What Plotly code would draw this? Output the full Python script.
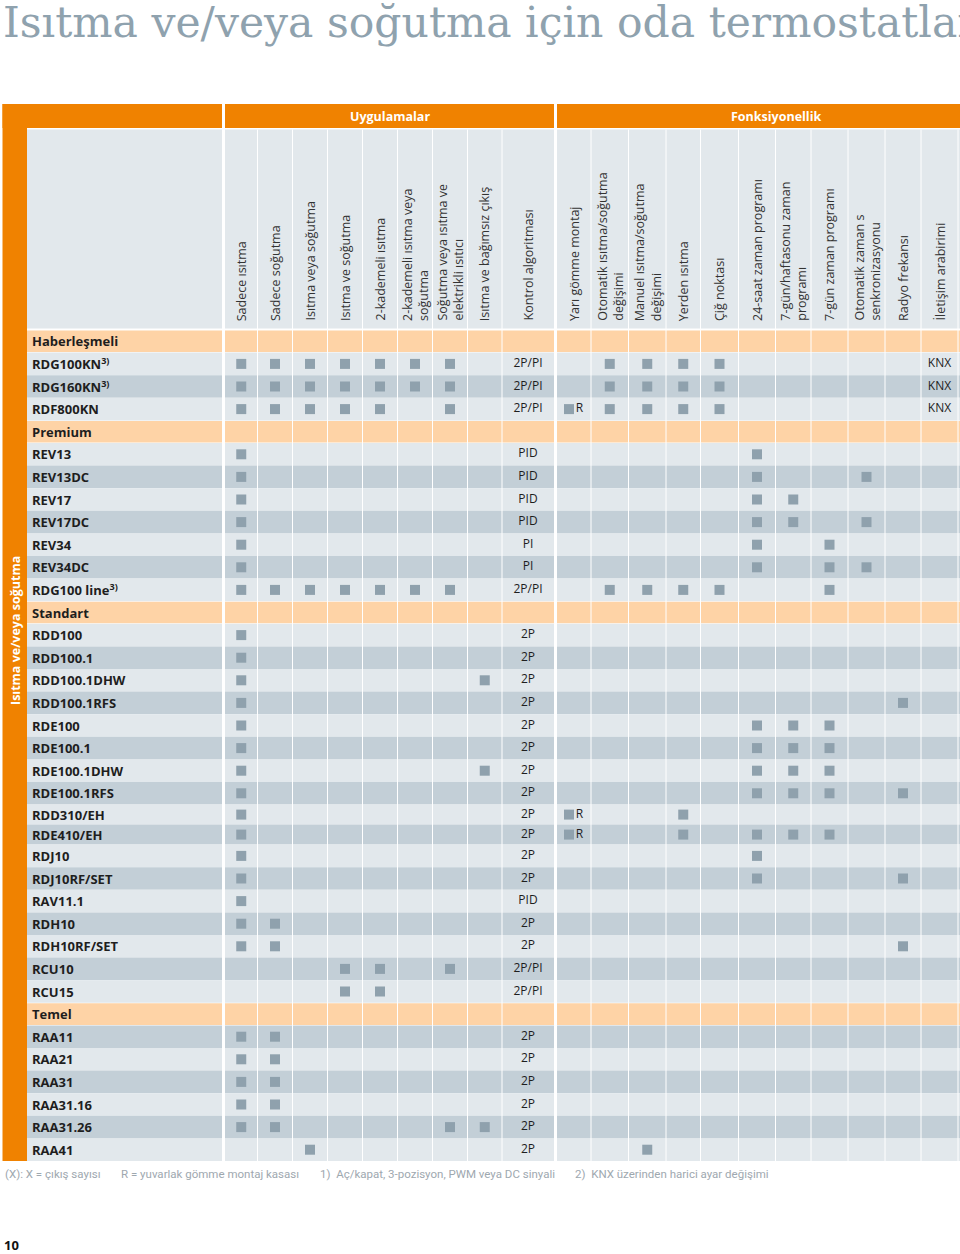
import plotly.graph_objects as go

# ---- data -------------------------------------------------------------
title = "Isıtma ve/veya soğutma için oda termostatları"
side_label = "Isıtma ve/veya soğutma"
sections = ["Uygulamalar", "Fonksiyonellik"]

app_headers = [
    "Sadece ısıtma", "Sadece soğutma", "Isıtma veya soğutma", "Isıtma ve soğutma",
    "2-kademeli ısıtma", "2-kademeli ısıtma veya<br>soğutma",
    "Soğutma veya ısıtma ve<br>elektrikli ısıtıcı", "Isıtma ve bağımsız çıkış",
    "Kontrol algoritması",
]
func_headers = [
    "Yarı gömme montaj", "Otomatik ısıtma/soğutma<br>değişimi",
    "Manuel ısıtma/soğutma<br>değişimi", "Yerden ısıtma", "Çiğ noktası",
    "24-saat zaman programı", "7-gün/haftasonu zaman<br>programı",
    "7-gün zaman programı", "Otomatik zaman s<br>senkronizasyonu",
    "Radyo frekansı", "İletişim arabirimi",
]

groups = ["Haberleşmeli", "Premium", "Standart", "Temel"]
group_sizes = [3, 7, 17, 6]

products = [
    "RDG100KN<sup>3)</sup>", "RDG160KN<sup>3)</sup>", "RDF800KN",
    "REV13", "REV13DC", "REV17", "REV17DC", "REV34", "REV34DC", "RDG100 line<sup>3)</sup>",
    "RDD100", "RDD100.1", "RDD100.1DHW", "RDD100.1RFS", "RDE100", "RDE100.1",
    "RDE100.1DHW", "RDE100.1RFS", "RDD310/EH", "RDE410/EH", "RDJ10", "RDJ10RF/SET",
    "RAV11.1", "RDH10", "RDH10RF/SET", "RCU10", "RCU15",
    "RAA11", "RAA21", "RAA31", "RAA31.16", "RAA31.26", "RAA41",
]

# x = feature present (one character per Uygulamalar column)
applications = [
    "xxxxxxx-", "xxxxxxx-", "xxxxx-x-",
    "x-------", "x-------", "x-------", "x-------", "x-------", "x-------", "xxxxxxx-",
    "x-------", "x-------", "x------x", "x-------", "x-------", "x-------",
    "x------x", "x-------", "x-------", "x-------", "x-------", "x-------",
    "x-------", "xx------", "xx------", "---xx-x-", "---xx---",
    "xx------", "xx------", "xx------", "xx------", "xx----xx", "--x-----",
]

control = [
    "2P/PI", "2P/PI", "2P/PI",
    "PID", "PID", "PID", "PID", "PI", "PI", "2P/PI",
    "2P", "2P", "2P", "2P", "2P", "2P", "2P", "2P", "2P", "2P", "2P", "2P",
    "PID", "2P", "2P", "2P/PI", "2P/PI",
    "2P", "2P", "2P", "2P", "2P", "2P",
]

# x = feature present, R = present with round flush-mount box
functions = [
    "-xxxx-----", "-xxxx-----", "Rxxxx-----",
    "-----x----", "-----x--x-", "-----xx---", "-----xx-x-", "-----x-x--", "-----x-xx-", "-xxxx--x--",
    "----------", "----------", "----------", "---------x", "-----xxx--", "-----xxx--",
    "-----xxx--", "-----xxx-x", "R--x------", "R--x-xxx--", "-----x----", "-----x---x",
    "----------", "----------", "---------x", "----------", "----------",
    "----------", "----------", "----------", "----------", "----------", "--x-------",
]

interface = ["KNX", "KNX", "KNX"] + [""] * 30

footnotes = [
    "(X): X = çıkış sayısı",
    "R = yuvarlak gömme montaj kasası",
    "1)  Aç/kapat, 3-pozisyon, PWM veya DC sinyali",
    "2)  KNX üzerinden harici ayar değişimi",
]
page_number = "10"

# ---- style / geometry -------------------------------------------------
W, H = 960, 1254
ORANGE = "#F08200"
LIGHT_ORANGE = "#FED3A6"
LIGHT = "#E2E8EC"
DARK = "#C3CFD7"
SQUARE = "#8FA1AD"
TEXT = "#1E1E1E"
SANS = "Open Sans, Noto Sans, sans-serif"

label_x0, label_x1 = 27, 222
app_edges = [225, 257.5, 292.5, 327.5, 362.5, 397.5, 432.5, 467.5, 502, 554]
func_edges = [557, 591, 628.5, 666, 700.5, 738.5, 775.5, 811, 848, 885, 921, 958, 995]
band_y0, band_y1 = 104, 128
head_y0, head_y1 = 129.5, 328.5
row_top = 330
row_h = 22.6
short_rows = {"RDD310/EH", "RDE410/EH"}
group_start_dark = [False, False, False, True]
footnote_x = [3, 119, 318, 573]

app_centers = [(a + b) / 2 for a, b in zip(app_edges[:-1], app_edges[1:])]
func_centers = [(a + b) / 2 for a, b in zip(func_edges[:-1], func_edges[1:])]

# build the row list
rows = []
p = 0
for g, (gname, n) in enumerate(zip(groups, group_sizes)):
    rows.append(dict(kind="group", label=gname))
    for k in range(n):
        dark = (k % 2 == 1) != group_start_dark[g]
        rows.append(dict(kind="item", label=products[p], idx=p, dark=dark))
        p += 1

y = row_top
for r in rows:
    h = 20 if r["label"] in short_rows else row_h
    r["y0"], r["y1"], r["yc"] = y, y + h, y + h / 2
    y += h
table_bottom = y

shapes = []


def rect(x0, y0, x1, y1, color):
    shapes.append(dict(type="rect", xref="x", yref="y", x0=x0, x1=x1, y0=y0, y1=y1,
                       fillcolor=color, line=dict(width=0), layer="below"))


# orange frame and section bands
rect(2.5, band_y0, label_x0, table_bottom, ORANGE)
rect(2.5, band_y0, label_x1, band_y1, ORANGE)
rect(app_edges[0], band_y0, app_edges[-1], band_y1, ORANGE)
rect(func_edges[0], band_y0, func_edges[-1], band_y1, ORANGE)

# header cells
for x0, x1 in [(label_x0, label_x1), (app_edges[0], app_edges[-1]), (func_edges[0], func_edges[-1])]:
    rect(x0, head_y0, x1, head_y1, LIGHT)

# row bands
for r in rows:
    if r["kind"] == "group":
        color, y0, y1 = LIGHT_ORANGE, r["y0"] + 0.5, r["y1"] - 0.5
    else:
        color, y0, y1 = (DARK if r["dark"] else LIGHT), r["y0"], r["y1"]
    for x0, x1 in [(label_x0, label_x1), (app_edges[0], app_edges[-1]), (func_edges[0], func_edges[-1])]:
        rect(x0, y0, x1, y1, color)

# thin white column rules
for xv in app_edges[1:-1] + func_edges[1:-1]:
    shapes.append(dict(type="line", xref="x", yref="y", x0=xv, x1=xv, y0=head_y0, y1=table_bottom,
                       line=dict(color="white", width=1), layer="below"))

# ---- marks ------------------------------------------------------------
sq_x, sq_y = [], []
cell_x, cell_y, cell_t = [], [], []
for r in rows:
    if r["kind"] != "item":
        continue
    i = r["idx"]
    for j, ch in enumerate(applications[i]):
        if ch == "x":
            sq_x.append(app_centers[j])
            sq_y.append(r["yc"])
    for j, ch in enumerate(functions[i]):
        if ch == "x":
            sq_x.append(func_centers[j])
            sq_y.append(r["yc"])
        elif ch == "R":
            sq_x.append(func_centers[j] - 5)
            sq_y.append(r["yc"])
            cell_x.append(func_centers[j] + 5.5)
            cell_y.append(r["yc"])
            cell_t.append("R")
    cell_x.append(app_centers[8])
    cell_y.append(r["yc"])
    cell_t.append(control[i])
    if interface[i]:
        cell_x.append(func_centers[10])
        cell_y.append(r["yc"])
        cell_t.append(interface[i])

fig = go.Figure()
fig.add_trace(go.Scatter(
    x=sq_x, y=sq_y, mode="markers",
    marker=dict(symbol="square", size=10, color=SQUARE, line=dict(width=0)),
    hoverinfo="skip",
))
fig.add_trace(go.Scatter(
    x=cell_x, y=cell_y, mode="text", text=cell_t,
    textfont=dict(family=SANS, size=12, color=TEXT), textposition="middle center",
    hoverinfo="skip",
))

annotations = []


def note(text, x, y, **kw):
    d = dict(text=text, x=x, y=y, xref="x", yref="y", showarrow=False)
    d.update(kw)
    annotations.append(d)


note(title, 1, 22, xanchor="left", yanchor="middle",
     font=dict(family="DejaVu Serif, serif", size=42.5, color="#8FA2AE"))

note("<b>" + sections[0] + "</b>", (app_edges[0] + app_edges[-1]) / 2, 116,
     font=dict(family=SANS, size=12.5, color="white"))
note("<b>" + sections[1] + "</b>", (func_edges[0] + func_edges[-1]) / 2, 116,
     font=dict(family=SANS, size=12.5, color="white"))

for hdr, cx in zip(app_headers, app_centers):
    note(hdr, cx, 323, textangle=-90, yanchor="bottom", align="left",
         font=dict(family=SANS, size=12.5, color="#333333"))
for hdr, cx in zip(func_headers, func_centers):
    note(hdr, cx, 323, textangle=-90, yanchor="bottom", align="left",
         font=dict(family=SANS, size=12.5, color="#333333"))

for r in rows:
    note("<b>" + r["label"] + "</b>", 30, r["yc"], xanchor="left",
         font=dict(family=SANS, size=13, color=TEXT))

note("<b>" + side_label + "</b>", 15, 631, textangle=-90,
     font=dict(family=SANS, size=12.5, color="white"))

for txt, fx in zip(footnotes, footnote_x):
    note(txt, fx, table_bottom + 13, xanchor="left",
         font=dict(family="Liberation Sans Narrow, Roboto, sans-serif", size=11.5, color="#9EA8AF"))

note("<b>" + page_number + "</b>", 2, 1245, xanchor="left",
     font=dict(family=SANS, size=13, color="#111111"))

fig.update_layout(
    width=W, height=H, autosize=False,
    margin=dict(l=0, r=0, t=0, b=0),
    paper_bgcolor="white", plot_bgcolor="white",
    showlegend=False, hovermode=False,
    xaxis=dict(range=[0, W], visible=False, fixedrange=True),
    yaxis=dict(range=[H, 0], visible=False, fixedrange=True),
    shapes=shapes, annotations=annotations,
)

fig.write_html("out.html", config={"displayModeBar": False},
               post_script="document.body.style.margin='0';")
